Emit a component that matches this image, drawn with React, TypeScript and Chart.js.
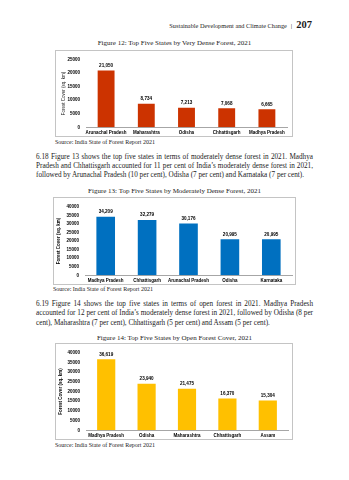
import React, { useEffect, useRef } from "react";
import { Chart, registerables } from "chart.js";

Chart.register(...registerables);

// ---------- DATA ----------
const fig12Categories = ["Arunachal Pradesh", "Maharashtra", "Odisha", "Chhattisgarh", "Madhya Pradesh"];
const fig12Values = [21050, 8734, 7213, 7068, 6665];
const fig12YTicks = [0, 5000, 10000, 15000, 20000, 25000];

const fig13Categories = ["Madhya Pradesh", "Chhattisgarh", "Arunachal Pradesh", "Odisha", "Karnataka"];
const fig13Values = [34209, 32279, 30176, 20995, 20995];
const fig13YTicks = [0, 5000, 10000, 15000, 20000, 25000, 30000, 35000, 40000];

const fig14Categories = ["Madhya Pradesh", "Odisha", "Maharashtra", "Chhattisgarh", "Assam"];
const fig14Values = [36619, 23940, 21475, 16370, 15304];
const fig14YTicks = [0, 5000, 10000, 15000, 20000, 25000, 30000, 35000, 40000];

const yAxisTitle = "Forest Cover (sq. km)";
const sourceText = "Source: India State of Forest Report 2021";

const SANS = '"Liberation Sans", Arial, sans-serif';
const SERIF = '"Liberation Serif", "Times New Roman", serif';

const valueLabelPlugin = {
  id: "valueLabels",
  afterDatasetsDraw(chart: any) {
    const ctx = chart.ctx;
    const meta = chart.getDatasetMeta(0);
    ctx.save();
    ctx.font = `bold 4.6px ${SANS}`;
    ctx.fillStyle = "#000";
    ctx.textAlign = "center";
    ctx.textBaseline = "bottom";
    meta.data.forEach((bar: any, i: number) => {
      const v = chart.data.datasets[0].data[i] as number;
      ctx.fillText(v.toLocaleString("en-US"), bar.x, bar.y - 2.5);
    });
    ctx.restore();
  },
};

type BarProps = {
  left: number;
  top: number;
  width: number;
  height: number;
  categories: string[];
  values: number[];
  yTicks: number[];
  color: string;
  yAxisWidth: number;
  xAxisHeight: number;
  padTop: number;
  padRight: number;
  titlePad: number;
  titleBold: boolean;
  barPct: number;
};

function BarChart(p: BarProps) {
  const ref = useRef<HTMLCanvasElement>(null);
  useEffect(() => {
    const font = { family: SANS, size: 4.5, weight: "bold" as const };
    const chart = new Chart(ref.current!, {
      type: "bar",
      data: {
        labels: p.categories,
        datasets: [
          {
            data: p.values,
            backgroundColor: p.color,
            borderWidth: 0,
            barPercentage: p.barPct,
            categoryPercentage: 1,
          },
        ],
      },
      options: {
        responsive: false,
        animation: false,
        layout: { padding: { top: p.padTop, right: p.padRight, left: 0, bottom: 0 } },
        plugins: { legend: { display: false }, tooltip: { enabled: false } },
        scales: {
          x: {
            grid: { display: false, drawTicks: false },
            border: { display: true, color: "#a6a6a6", width: 1 },
            ticks: {
              autoSkip: false,
              maxRotation: 0,
              minRotation: 0,
              padding: 3,
              color: "#000",
              font,
            },
            afterFit: (s: any) => {
              s.height = p.xAxisHeight;
            },
          },
          y: {
            min: 0,
            max: p.yTicks[p.yTicks.length - 1],
            grid: { display: false, drawTicks: false },
            border: { display: false },
            afterBuildTicks: (s: any) => {
              s.ticks = p.yTicks.map((v) => ({ value: v }));
            },
            ticks: {
              padding: 6,
              color: "#000",
              font,
              callback: (v: any) => String(v),
            },
            title: {
              display: true,
              text: yAxisTitle,
              color: p.titleBold ? "#000" : "#222",
              padding: { top: p.titlePad, bottom: 0 },
              font: { family: SANS, size: 4.5, weight: p.titleBold ? "bold" : "normal" },
            },
            afterFit: (s: any) => {
              s.width = p.yAxisWidth;
            },
          },
        },
      },
      plugins: [valueLabelPlugin],
    });
    return () => chart.destroy();
  }, []);
  return (
    <div
      style={{
        position: "absolute",
        left: p.left - 1,
        top: p.top - 1,
        width: p.width + 2,
        height: p.height + 2,
        border: "1px solid #c4c4c4",
        boxSizing: "border-box",
      }}
    >
      <canvas
        ref={ref}
        width={p.width}
        height={p.height}
        style={{ position: "absolute", left: 0, top: 0, width: p.width, height: p.height }}
      />
    </div>
  );
}

function Text(props: {
  x?: number;
  y: number;
  w?: number;
  size: number;
  lh?: number;
  align?: "left" | "center" | "right" | "justify";
  children: React.ReactNode;
  style?: React.CSSProperties;
}) {
  const lh = props.lh ?? props.size * 1.25;
  return (
    <div
      style={{
        position: "absolute",
        left: props.x ?? 0,
        top: props.y - lh / 2,
        width: props.w ?? 349,
        fontFamily: SERIF,
        fontSize: props.size,
        lineHeight: `${lh}px`,
        color: "#1a1a1a",
        whiteSpace: "nowrap",
        textAlign: props.align === "justify" ? "justify" : props.align ?? "left",
        textAlignLast: props.align === "justify" ? "justify" : undefined,
        ...props.style,
      }}
    >
      {props.children}
    </div>
  );
}

const para618 = [
  "6.18 Figure 13 shows the top five states in terms of moderately dense forest in 2021. Madhya",
  "Pradesh and Chhattisgarh accounted for 11 per cent of India\u2019s moderately dense forest in 2021,",
  "followed by Arunachal Pradesh (10 per cent), Odisha (7 per cent) and Karnataka (7 per cent).",
];
const para618Y = [157, 166, 175];
const para619 = [
  "6.19 Figure 14 shows the top five states in terms of open forest in 2021. Madhya Pradesh",
  "accounted for 12 per cent of India\u2019s moderately dense forest in 2021, followed by Odisha (8 per",
  "cent), Maharashtra (7 per cent), Chhattisgarh (5 per cent) and Assam (5 per cent).",
];
const para619Y = [304, 313.5, 323];

export default function App() {
  return (
    <div style={{ position: "absolute", left: 0, top: 0, width: 349, height: 480, background: "#fff", overflow: "hidden" }}>
      {/* header */}
      <div
        style={{
          position: "absolute",
          right: 37,
          top: 16,
          fontFamily: SERIF,
          color: "#1a1a1a",
          whiteSpace: "nowrap",
          lineHeight: "14px",
        }}
      >
        <span style={{ fontSize: 6.3 }}>Sustainable Development and Climate Change</span>
        <span style={{ fontSize: 7, margin: "0 4px" }}>|</span>
        <span style={{ fontSize: 10.5, fontWeight: "bold" }}>207</span>
      </div>

      <Text y={43} size={7} align="center">Figure 12: Top Five States by Very Dense Forest, 2021</Text>
      <BarChart
        left={56}
        top={51}
        width={236}
        height={85}
        categories={fig12Categories}
        values={fig12Values}
        yTicks={fig12YTicks}
        color="#CC3300"
        yAxisWidth={30}
        xAxisHeight={8}
        padTop={3}
        padRight={5}
        titlePad={5}
        titleBold={false}
        barPct={0.42}
      />
      <Text x={55} y={143} size={6}>{sourceText}</Text>

      {para618.map((line, i) => (
        <Text key={i} x={36} y={para618Y[i]} w={277} size={7.2} align={i < para618.length - 1 ? "justify" : "left"}>
          {line}
        </Text>
      ))}

      <Text y={191} size={7} align="center">Figure 13: Top Five States by Moderately Dense Forest, 2021</Text>
      <BarChart
        left={54}
        top={198}
        width={241}
        height={86}
        categories={fig13Categories}
        values={fig13Values}
        yTicks={fig13YTicks}
        color="#0070C0"
        yAxisWidth={31}
        xAxisHeight={8}
        padTop={4}
        padRight={3}
        titlePad={1.6}
        titleBold={true}
        barPct={0.45}
      />
      <Text x={53} y={290} size={6}>{sourceText}</Text>

      {para619.map((line, i) => (
        <Text key={i} x={36} y={para619Y[i]} w={277} size={7.2} align={i < para619.length - 1 ? "justify" : "left"}>
          {line}
        </Text>
      ))}

      <Text y={338} size={7} align="center">Figure 14: Top Five States by Open Forest Cover, 2021</Text>
      <BarChart
        left={56}
        top={344}
        width={236}
        height={95}
        categories={fig14Categories}
        values={fig14Values}
        yTicks={fig14YTicks}
        color="#FFC000"
        yAxisWidth={30}
        xAxisHeight={8}
        padTop={6}
        padRight={4}
        titlePad={2.3}
        titleBold={true}
        barPct={0.45}
      />
      <Text x={55} y={446} size={6}>{sourceText}</Text>
    </div>
  );
}
